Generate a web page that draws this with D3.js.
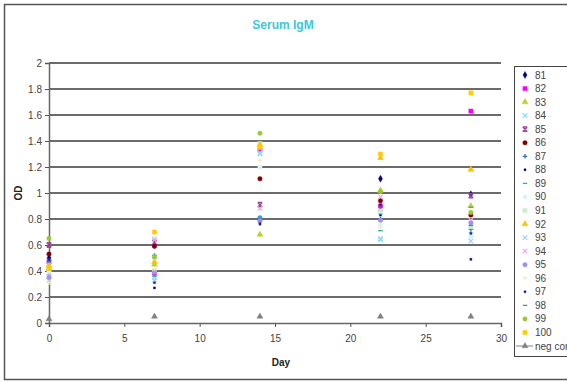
<!DOCTYPE html>
<html>
<head>
<meta charset="utf-8">
<script src="https://cdn.jsdelivr.net/npm/d3@7"></script>
<style>
  body { margin: 0; background: #fff; }
  text { font-family: "Liberation Sans", Arial, sans-serif; }
</style>
</head>
<body>
<script>
//chart data
var days = [0, 7, 14, 22, 28];
var seriesNames = ["81","82","83","84","85","86","87","88","89","90",
                   "91","92","93","94","95","96","97","98","99","100","neg cont"];
//OD per series, one value for each day above
var od = [
    [0.50, 0.60, 0.80, 1.11, 0.99],  //81
    [0.47, 0.38, 1.33, 0.90, 1.63],  //82
    [0.42, 0.45, 0.68, 1.02, 0.90],  //83
    [0.38, 0.35, 1.30, 0.64, 0.68],  //84
    [0.60, 0.62, 0.91, 0.88, 0.98],  //85
    [0.53, 0.59, 1.11, 0.94, 0.83],  //86
    [0.48, 0.52, 0.78, 0.80, 0.72],  //87
    [0.45, 0.27, 0.77, 0.83, 0.49],  //88
    [0.46, 0.50, 0.82, 0.84, 0.89],  //89
    [0.40, 0.66, 1.20, 0.75, 0.66],  //90
    [0.44, 0.40, 1.38, 0.86, 0.74],  //91
    [0.44, 0.47, 1.37, 1.27, 1.18],  //92
    [0.33, 0.33, 1.31, 0.65, 0.63],  //93
    [0.36, 0.64, 0.88, 0.97, 0.79],  //94
    [0.35, 0.39, 0.79, 0.79, 0.77],  //95
    [0.31, 0.42, 1.25, 0.73, 0.86],  //96
    [0.49, 0.31, 0.76, 0.91, 0.69],  //97
    [0.41, 0.36, 0.81, 0.71, 0.75],  //98
    [0.65, 0.51, 1.46, 1.01, 0.85],  //99
    [0.42, 0.70, 1.35, 1.30, 1.77],  //100
    [0.03, 0.05, 0.05, 0.05, 0.05]   //neg cont
];
var xTicks = [0, 5, 10, 15, 20, 25, 30];
var yTicks = [0, 0.2, 0.4, 0.6, 0.8, 1, 1.2, 1.4, 1.6, 1.8, 2];

//marker styling, one per series
var colors = ["#000080","#ff00ff","#bfcf2a","#7fe3ef","#a0409a","#800000","#2f6fc0","#000080","#2fa8dc","#d8f4f4",
              "#c8f0c8","#ffc000","#a8d0f8","#f0a8e8","#a090f0","#eeeec0","#202090","#33a0a0","#99c833","#ffcc00","#808080"];
var shapes = ["diamond","square","triangle","x","xbar","circle","plus","dot","dash","circle",
              "square","triangle","x","x","circle","plus","dot","dash","circle","square","triangle"];

//set up the chart
var width = 567,
    height = 382;

var svg = d3.select("body")
    .append("svg")
    .attr("width", width)
    .attr("height", height);

//outer frame
svg.append("rect")
    .attr("x", 4.5).attr("y", 4.5)
    .attr("width", 580).attr("height", 375)
    .attr("fill", "none")
    .attr("stroke", "#555")
    .attr("stroke-width", 1.5);

var x = d3.scaleLinear().domain([0, 30]).range([49, 501]);
var y = d3.scaleLinear().domain([0, 2]).range([323, 63]);

//gridlines
svg.selectAll(".grid")
    .data(yTicks.slice(1))
    .enter()
    .append("line")
    .attr("class", "grid")
    .attr("x1", x(0)).attr("x2", x(30))
    .attr("y1", function(d){ return y(d); })
    .attr("y2", function(d){ return y(d); })
    .attr("stroke", "#3a3a3a")
    .attr("stroke-width", 1.6);

//axes
var yAxis = svg.append("g")
    .attr("transform", "translate(" + x(0) + ",0)")
    .call(d3.axisLeft(y).tickValues(yTicks).tickSize(4).tickFormat(d3.format("")));
var xAxis = svg.append("g")
    .attr("transform", "translate(0," + y(0) + ")")
    .call(d3.axisBottom(x).tickValues(xTicks).tickSize(4).tickFormat(d3.format("d")));

[xAxis, yAxis].forEach(function(a){
    a.select(".domain").attr("stroke", "#666").attr("stroke-width", 1.5);
    a.selectAll(".tick line").attr("stroke", "#555");
    a.selectAll(".tick text")
        .attr("fill", "#444")
        .style("font-size", "10px");
});
yAxis.selectAll(".tick text").attr("x", -7);
xAxis.selectAll(".tick text").attr("y", 12);

//titles
svg.append("text")
    .attr("x", 283).attr("y", 29)
    .attr("text-anchor", "middle")
    .attr("fill", "#3cc8d8")
    .style("font-size", "12px")
    .style("font-weight", "bold")
    .text("Serum IgM");

svg.append("text")
    .attr("x", 281).attr("y", 366)
    .attr("text-anchor", "middle")
    .attr("fill", "#222")
    .style("font-size", "10px")
    .style("font-weight", "bold")
    .text("Day");

svg.append("text")
    .attr("transform", "translate(22,193) rotate(-90)")
    .attr("text-anchor", "middle")
    .attr("fill", "#222")
    .style("font-size", "10px")
    .style("font-weight", "bold")
    .text("OD");

//marker path centred on 0,0
function marker(shape, s){
    var h = s / 2;
    switch (shape){
        case "diamond": return d3.symbol(d3.symbolDiamond, s * s * 0.7)();
        case "square": return d3.symbol(d3.symbolSquare, s * s * 0.9)();
        case "triangle": return d3.symbol(d3.symbolTriangle, s * s * 0.8)();
        case "circle": return d3.symbol(d3.symbolCircle, s * s * 0.8)();
        case "x": return "M" + -h + "," + -h + "L" + h + "," + h + "M" + -h + "," + h + "L" + h + "," + -h;
        case "xbar": return "M" + -h + "," + -h + "L" + h + "," + h + "M" + -h + "," + h + "L" + h + "," + -h +
                            "M" + -h + "," + -h + "L" + h + "," + -h + "M" + -h + "," + h + "L" + h + "," + h;
        case "plus": return "M" + -h + ",0L" + h + ",0M0," + -h + "L0," + h;
        case "dash": return "M" + -h + ",0L" + h + ",0";
        case "dot": return d3.symbol(d3.symbolSquare, 4)();
    }
}
var lineShape = function(s){ return s == "x" || s == "xbar" || s == "plus" || s == "dash"; };

function drawMarker(g, i, s){
    g.append("path")
        .attr("d", marker(shapes[i], s))
        .attr("fill", lineShape(shapes[i]) ? "none" : colors[i])
        .attr("stroke", colors[i])
        .attr("stroke-width", lineShape(shapes[i]) ? 1.3 : 0.4);
}

//points
seriesNames.forEach(function(name, i){
    var g = svg.append("g").attr("class", "series");
    od[i].forEach(function(v, j){
        var p = g.append("g")
            .attr("transform", "translate(" + x(days[j]) + "," + y(v) + ")");
        drawMarker(p, i, 4.5);
    });
});

//legend
var legend = svg.append("g");
legend.append("rect")
    .attr("x", 514.5).attr("y", 66.5)
    .attr("width", 70).attr("height", 290)
    .attr("fill", "#fff")
    .attr("stroke", "#444");

var ly = d3.scaleLinear().domain([0, 20]).range([75, 346]);
seriesNames.forEach(function(name, i){
    var item = legend.append("g")
        .attr("transform", "translate(525," + ly(i) + ")");
    if (name == "neg cont"){
        item.append("line")
            .attr("x1", -9).attr("x2", 8)
            .attr("stroke", colors[i]).attr("stroke-width", 1);
    }
    drawMarker(item, i, 4.5);
    legend.append("text")
        .attr("x", 535).attr("y", ly(i) + 3.5)
        .attr("fill", "#444")
        .style("font-size", "10px")
        .text(name);
});
</script>
</body>
</html>
